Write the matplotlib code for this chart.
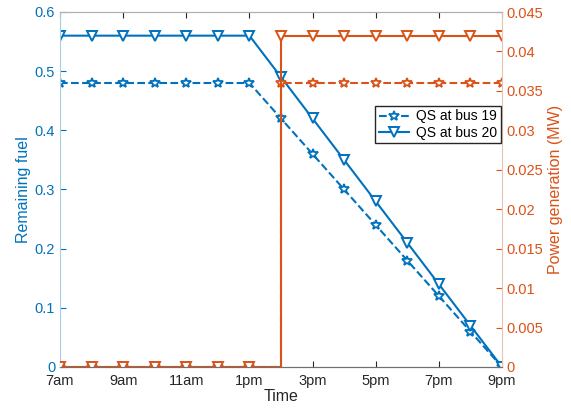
import matplotlib
matplotlib.use("Agg")
import matplotlib.pyplot as plt

plt.rcParams.update({
    "font.family": ["Liberation Sans", "DejaVu Sans"],
    "xtick.direction": "in",
    "ytick.direction": "in",
    "xtick.top": True,
})

BLUE = "#0072BD"
ORANGE = "#D95319"

hours = list(range(7, 22))
tick_hours = [7, 9, 11, 13, 15, 17, 19, 21]
tick_labels = ["7am", "9am", "11am", "1pm", "3pm", "5pm", "7pm", "9pm"]

fuel_bus19 = [0.48, 0.48, 0.48, 0.48, 0.48, 0.48, 0.48,
              0.42, 0.36, 0.30, 0.24, 0.18, 0.12, 0.06, 0.0]
fuel_bus20 = [0.56, 0.56, 0.56, 0.56, 0.56, 0.56, 0.56,
              0.49, 0.42, 0.35, 0.28, 0.21, 0.14, 0.07, 0.0]
power_bus19 = [0, 0, 0, 0, 0, 0, 0,
               0.036, 0.036, 0.036, 0.036, 0.036, 0.036, 0.036, 0.036]
power_bus20 = [0, 0, 0, 0, 0, 0, 0,
               0.042, 0.042, 0.042, 0.042, 0.042, 0.042, 0.042, 0.042]

fig = plt.figure(figsize=(5.71, 4.08), dpi=100)
ax = fig.add_axes([60 / 571, 41 / 408, 442 / 571, 355 / 408])

l19, = ax.plot(hours, fuel_bus19, "--", color=BLUE, lw=1.5, marker="*",
               ms=7, mfc="white", mec=BLUE, mew=1.3, label="QS at bus 19")
l20, = ax.plot(hours, fuel_bus20, "-", color=BLUE, lw=1.5, marker="v",
               ms=7, mfc="white", mec=BLUE, mew=1.4, label="QS at bus 20")

ax2 = ax.twinx()
ax2.plot(hours, power_bus19, "--", color=ORANGE, lw=1.5, drawstyle="steps-post",
         marker="*", ms=7, mfc="white", mec=ORANGE, mew=1.3)
ax2.plot(hours, power_bus20, "-", color=ORANGE, lw=1.5, drawstyle="steps-post",
         marker="v", ms=7, mfc="white", mec=ORANGE, mew=1.4)

ax.set_xlim(7, 21)
ax.set_ylim(0, 0.6)
ax2.set_ylim(0, 0.045)
ax.set_xticks(tick_hours)
ax.set_xticklabels(tick_labels)
ax.set_yticks([0, 0.1, 0.2, 0.3, 0.4, 0.5, 0.6])
ax.set_yticklabels(["0", "0.1", "0.2", "0.3", "0.4", "0.5", "0.6"])
ax2.set_yticks([0, 0.005, 0.01, 0.015, 0.02, 0.025, 0.03, 0.035, 0.04, 0.045])
ax2.set_yticklabels(["0", "0.005", "0.01", "0.015", "0.02", "0.025",
                     "0.03", "0.035", "0.04", "0.045"])

ax.tick_params(axis="x", colors="#262626", labelsize=10.5, length=4, pad=5)
ax.tick_params(axis="y", colors=BLUE, labelsize=10.5, length=4)
ax2.tick_params(axis="y", colors=ORANGE, labelsize=10.5, length=4)

for a in (ax, ax2):
    a.spines["top"].set_color("#b0b0b0")
    a.spines["bottom"].set_color("#707070")
    a.spines["left"].set_color("#a8cde0")
    a.spines["right"].set_color("#e8c4b0")
ax2.spines["left"].set_visible(False)
ax.spines["right"].set_visible(False)

ax.set_xlabel("Time", fontsize=11.5, color="#262626", labelpad=1)
ax.set_ylabel("Remaining fuel", fontsize=11.5, color=BLUE, labelpad=3)
ax2.set_ylabel("Power generation (MW)", fontsize=11.5, color=ORANGE, labelpad=3)

ax2.legend([l19, l20], ["QS at bus 19", "QS at bus 20"],
           loc="upper right", bbox_to_anchor=(501 / 571, 1 - 106 / 408),
           bbox_transform=fig.transFigure, fontsize=10, frameon=True,
           fancybox=False, edgecolor="#262626", framealpha=1,
           borderpad=0.25, labelspacing=0.15, handlelength=2.2,
           handletextpad=0.5, borderaxespad=0)

fig.savefig("out.png", dpi=100)
